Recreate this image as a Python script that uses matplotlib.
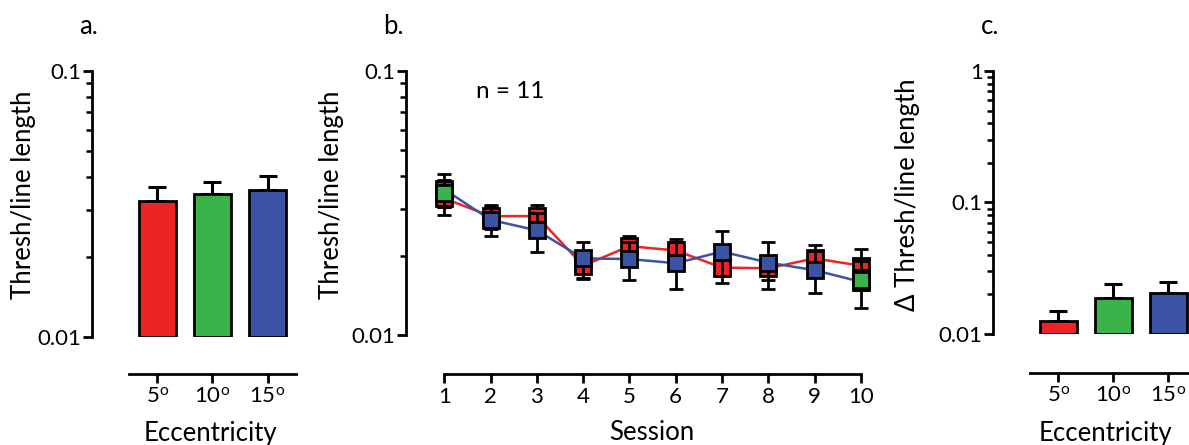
import matplotlib
matplotlib.use("Agg")
import matplotlib.pyplot as plt
import numpy as np
from matplotlib.ticker import LogLocator, NullFormatter, FixedLocator, FixedFormatter

plt.rcParams['font.family'] = ['Lato', 'DejaVu Sans']

# ---------------- data ----------------
ecc_labels = ['5$^{\\mathregular{o}}$', '10$^{\\mathregular{o}}$', '15$^{\\mathregular{o}}$']
colors = ['#EE2326', '#39B34A', '#3A53A4']

# panel a: threshold / line length per eccentricity
thresh_mean = [0.0325, 0.0344, 0.0357]
thresh_err = [0.0042, 0.0040, 0.0046]

# panel b: threshold per session
sessions = [1, 2, 3, 4, 5, 6, 7, 8, 9, 10]
red_vals = [0.0329, 0.0282, 0.0282, 0.0183, 0.0217, 0.0209, 0.0180, 0.0179, 0.0195, 0.0183]
red_err = [0.0043, 0.0030, 0.0028, 0.0020, 0.0020, 0.0023, 0.0022, 0.0017, 0.0025, 0.0028]
blue_vals = [0.0356, 0.0273, 0.0249, 0.0195, 0.0194, 0.0187, 0.0207, 0.0188, 0.0176, 0.0159]
blue_err = [0.0050, 0.0035, 0.0042, 0.0031, 0.0032, 0.0038, 0.0040, 0.0038, 0.0032, 0.0032]
green_sessions = [1, 10]
green_vals = [0.0346, 0.0162]
green_err = [0.0040, 0.0014]

# panel c: delta threshold per eccentricity
delta_mean = [0.0126, 0.0187, 0.0204]
delta_err = [0.0024, 0.0052, 0.0045]

# ---------------- layout ----------------
W, H = 1189, 445
fig = plt.figure(figsize=(W / 100, H / 100), dpi=100)
plt.rcParams['mathtext.default'] = 'regular'


def rect(l, r, t, b):
    return [l / W, (H - b) / H, (r - l) / W, (b - t) / H]


LW = 2.0
TICK_FS = 16
LAB_FS = 18.5


def style_axis(ax, outward_px, xbounds):
    for s in ['top', 'right']:
        ax.spines[s].set_visible(False)
    ax.spines['left'].set_linewidth(LW)
    ax.spines['bottom'].set_linewidth(LW)
    ax.spines['bottom'].set_position(('outward', outward_px * 0.72))
    ax.spines['bottom'].set_bounds(*xbounds)
    ax.tick_params(axis='both', which='major', width=LW, length=6.5,
                   labelsize=TICK_FS, color='black')
    ax.tick_params(axis='y', which='minor', width=LW * 0.9, length=4.5)
    ax.tick_params(axis='x', which='minor', length=0)
    ax.tick_params(axis='x', pad=3)
    ax.tick_params(axis='y', pad=1)
    ax.yaxis.set_minor_formatter(NullFormatter())


def set_log_ticks(ax, lo, hi):
    ax.set_yscale('log')
    ax.set_ylim(lo, hi)
    majors = [10.0 ** k for k in range(int(round(np.log10(lo))), int(round(np.log10(hi))) + 1)]
    ax.yaxis.set_major_locator(FixedLocator(majors))
    ax.yaxis.set_major_formatter(FixedFormatter([('%g' % m) for m in majors]))
    ax.yaxis.set_minor_locator(LogLocator(base=10, subs=np.arange(2, 10), numticks=20))


def bar_panel(ax, means, errs, lo, hi):
    x = np.arange(len(means))
    set_log_ticks(ax, lo, hi)
    heights = [m - lo for m in means]
    ax.bar(x, heights, bottom=lo, width=0.67, color=colors, edgecolor='black',
           linewidth=LW, zorder=3)
    ax.errorbar(x, means, yerr=[np.zeros(len(errs)), errs], fmt='none',
                ecolor='black', elinewidth=LW * 1.1, capsize=6.5, capthick=LW * 1.1,
                zorder=2)
    ax.set_xlim(-1.19, 2.518)
    ax.set_xticks(x)
    ax.set_xticklabels(ecc_labels)


# panel a
axa = fig.add_axes(rect(92, 296, 71, 337))
bar_panel(axa, thresh_mean, thresh_err, 0.01, 0.1)
style_axis(axa, 37, (-0.518, 2.518))
axa.set_ylabel('Thresh/line length', fontsize=LAB_FS, va='center')
axa.yaxis.set_label_coords((23 - 92) / 204, (337 - 195) / 266)
axa.set_xlabel('Eccentricity', fontsize=LAB_FS, va='center')
axa.xaxis.set_label_coords((210 - 92) / 204, (337 - 433) / 266)

# panel b
axb = fig.add_axes(rect(406, 872, 71, 335))
set_log_ticks(axb, 0.01, 0.1)
axb.set_xlim(0.173, 10.24)
ms = 11.5
axb.errorbar(sessions, red_vals, yerr=red_err, fmt='-s', color=colors[0], lw=1.8,
             mfc=colors[0], mec='black', mew=2.0, ms=ms, ecolor='black',
             elinewidth=LW, capsize=5, capthick=LW, zorder=2)
axb.errorbar(sessions, blue_vals, yerr=blue_err, fmt='-s', color=colors[2], lw=1.8,
             mfc=colors[2], mec='black', mew=2.0, ms=ms, ecolor='black',
             elinewidth=LW, capsize=5, capthick=LW, zorder=3)
axb.errorbar(green_sessions, green_vals, yerr=green_err, fmt='s', color=colors[1],
             mfc=colors[1], mec='black', mew=2.0, ms=ms, ecolor='black',
             elinewidth=LW, capsize=5, capthick=LW, zorder=4)
axb.set_xticks(sessions)
style_axis(axb, 39, (1, 10))
axb.set_ylabel('Thresh/line length', fontsize=LAB_FS, va='center')
axb.yaxis.set_label_coords((331 - 406) / 466, (335 - 195) / 264)
axb.set_xlabel('Session', fontsize=LAB_FS, va='center')
axb.xaxis.set_label_coords((652 - 406) / 466, (335 - 433) / 264)
axb.text((510 - 406) / 466, (335 - 92) / 264, 'n = 11', transform=axb.transAxes,
         ha='center', va='center', fontsize=17.5)

# panel c
axc = fig.add_axes(rect(993, 1197, 71, 334))
bar_panel(axc, delta_mean, delta_err, 0.01, 1.0)
axc.set_xlim(-1.187, 2.518)
style_axis(axc, 39, (-0.51, 2.518))
axc.set_ylabel('Δ Thresh/line length', fontsize=LAB_FS, va='center')
axc.yaxis.set_label_coords((907 - 993) / 204, (334 - 195) / 263)
axc.set_xlabel('Eccentricity', fontsize=LAB_FS, va='center')
axc.xaxis.set_label_coords((1105 - 993) / 204, (334 - 433) / 263)

# panel letters
for lx, txt in [(88, 'a.'), (393, 'b.'), (990, 'c.')]:
    fig.text(lx / W, 1 - 27 / H, txt, ha='center', va='center', fontsize=LAB_FS)

fig.savefig('out.png', dpi=100)
